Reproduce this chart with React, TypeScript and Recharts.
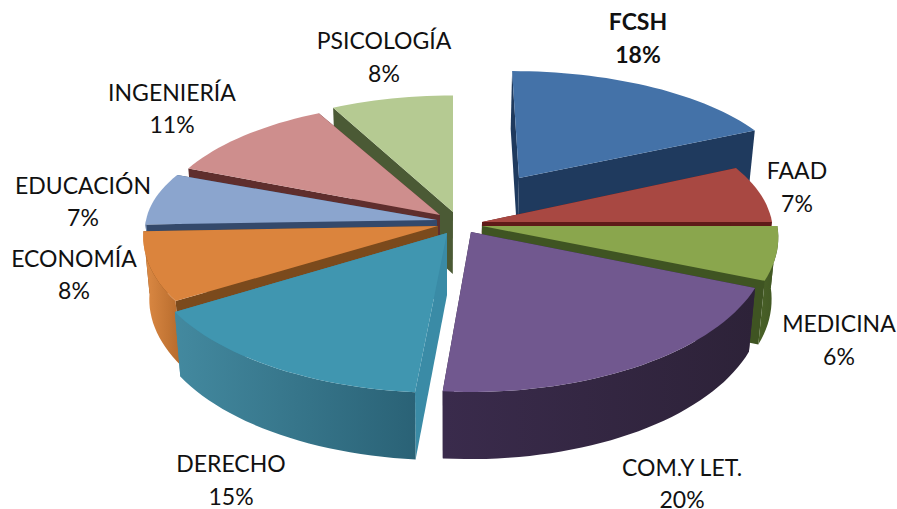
import React from 'react';
import { PieChart, Pie } from 'recharts';

const WIDTH = 897;
const HEIGHT = 509;

// values, labels show them rounded
const names = ['FCSH', 'FAAD', 'MEDICINA', 'COM.Y LET.', 'DERECHO', 'ECONOMÍA', 'EDUCACIÓN', 'INGENIERÍA', 'PSICOLOGÍA'];
const values = [18, 7, 6, 20.4, 15, 8, 7, 11, 7.6];

const data = names.map((name, i) => ({ name, value: values[i] }));

// painter's order, back slices first
const drawOrder = [8, 0, 7, 1, 6, 2, 5, 3, 4];

const topColors = ['#4472A8', '#A84842', '#8AA64D', '#71588F', '#4096B0', '#DB843D', '#8BA5CE', '#CE8E8D', '#B5CA92'];
const cutColors = ['#1F3A5E', '#5F1A18', '#3F5422', '#30243F', '#3A8BA6', '#7B4A1C', '#34496B', '#5F2E2D', '#4B5A35'];
const rimColors = [
  ['#24426A', '#1D3757'],
  ['#7A2725', '#6A201E'],
  ['#4A6228', '#3F5422'],
  ['#3A2B4C', '#2D2238'],
  ['#43899F', '#2A6276'],
  ['#DE8B45', '#B56A2C'],
  ['#6F87AB', '#5F779B'],
  ['#A87472', '#986664'],
  ['#95A878', '#85986A'],
];

// per slice: apex position, horizontal/vertical scale and lean of the exploded piece
const layout = [
  { ax: 519, ay: 178, sx: 0.9, sy: 0.78, lean: 0.065 },
  { ax: 482, ay: 222, sx: 0.957, sy: 0.885, lean: 0 },
  { ax: 482, ay: 226, sx: 0.975, sy: 0.98, lean: 0 },
  { ax: 471, ay: 232, sx: 0.98, sy: 1, lean: 0 },
  { ax: 447, ay: 233, sx: 1, sy: 1, lean: -0.02 },
  { ax: 438, ay: 226, sx: 0.97, sy: 0.95, lean: 0 },
  { ax: 437, ay: 220, sx: 0.96, sy: 0.8, lean: 0 },
  { ax: 440, ay: 215, sx: 0.93, sy: 0.83, lean: 0 },
  { ax: 453, ay: 212, sx: 0.92, sy: 0.85, lean: 0 },
];

// center x and first baseline of each two line label
const labelPos = [
  { x: 638, y: 30 },
  { x: 797, y: 179 },
  { x: 839, y: 332 },
  { x: 682, y: 475.5 },
  { x: 231, y: 472 },
  { x: 74, y: 266.5 },
  { x: 83, y: 193.5 },
  { x: 172, y: 100.5 },
  { x: 384, y: 49 },
];

const RX = 303;
const RY = 147.6;
const PERSP = 0.077;
const DEPTH = 62;
const VANISH_X = 445;

type P = [number, number];

const toPath = (pts: P[]) => 'M' + pts.map((p) => p[0].toFixed(1) + ',' + p[1].toFixed(1)).join('L') + 'Z';

const project = (i: number, theta: number, r: number) => {
  const a = (theta * Math.PI) / 180;
  const u = r * Math.sin(a);
  const v = -r * Math.cos(a);
  const w = 1 - PERSP * v;
  const { ax, ay, sx, sy, lean } = layout[i];
  const dy = (sy * RY * v) / w;
  const top: P = [ax + (sx * RX * u) / w + lean * dy, ay + dy];
  const bottom: P = [VANISH_X + (top[0] - VANISH_X) * 0.98, top[1] + DEPTH / w];
  return { top, bottom };
};

const Slice = ({ i, startAngle, endAngle }: { i: number; startAngle: number; endAngle: number }) => {
  const from = 90 - startAngle;
  const to = 90 - endAngle;
  const steps = Math.max(2, Math.ceil((to - from) / 2));
  const rim = [];
  for (let s = 0; s <= steps; s++) rim.push(project(i, from + ((to - from) * s) / steps, 1));
  const apex = project(i, from, 0);
  const first = rim[0];
  const last = rim[rim.length - 1];
  // outer wall only shows on the front half of the ellipse
  const wallFrom = Math.max(from, 90);
  const wallTo = Math.min(to, 270);
  const wall = [];
  if (wallTo > wallFrom) {
    const n = Math.max(2, Math.ceil((wallTo - wallFrom) / 2));
    for (let s = 0; s <= n; s++) wall.push(project(i, wallFrom + ((wallTo - wallFrom) * s) / n, 1));
  }
  const gradId = 'rim' + i;
  return (
    <g>
      <defs>
        <linearGradient id={gradId} x1="0" y1="0" x2="1" y2="0">
          <stop offset="0%" stopColor={rimColors[i][0]} />
          <stop offset="100%" stopColor={rimColors[i][1]} />
        </linearGradient>
      </defs>
      <path d={toPath([apex.top, last.top, last.bottom, apex.bottom])} fill={cutColors[i]} />
      <path d={toPath([apex.top, first.top, first.bottom, apex.bottom])} fill={cutColors[i]} />
      {wall.length > 0 && (
        <path d={toPath([...wall.map((p) => p.top), ...wall.map((p) => p.bottom).reverse()])} fill={`url(#${gradId})`} />
      )}
      <path d={toPath([apex.top, ...rim.map((p) => p.top)])} fill={topColors[i]} />
    </g>
  );
};

const renderLabel = (props: any) => {
  const i = names.indexOf(props.name);
  const { x, y } = labelPos[i];
  return (
    <text
      key={props.name}
      x={x}
      y={y}
      textAnchor="middle"
      fontFamily="Lato, sans-serif"
      fontSize={23}
      fontWeight={i === 0 ? 700 : 400}
      fill="#111"
    >
      <tspan x={x}>{props.name}</tspan>
      <tspan x={x} dy={32.5}>{Math.round(props.value)}%</tspan>
    </text>
  );
};

const App: React.FC = () => {
  return (
    <div style={{ position: 'absolute', left: 0, top: 0, width: WIDTH, height: HEIGHT, background: '#fff' }}>
      <PieChart width={WIDTH} height={HEIGHT} margin={{ top: 0, right: 0, bottom: 0, left: 0 }}>
        {drawOrder.map((i) => (
          <Pie
            key={names[i]}
            data={data}
            dataKey="value"
            nameKey="name"
            startAngle={90}
            endAngle={-270}
            outerRadius={150}
            stroke="none"
            isAnimationActive={false}
            shape={(props: any) =>
              props.name === names[i] ? <Slice i={i} startAngle={props.startAngle} endAngle={props.endAngle} /> : <g />
            }
          />
        ))}
        <Pie
          data={data}
          dataKey="value"
          nameKey="name"
          startAngle={90}
          endAngle={-270}
          outerRadius={150}
          stroke="none"
          isAnimationActive={false}
          shape={() => <g />}
          label={renderLabel}
          labelLine={false}
        />
      </PieChart>
    </div>
  );
};

export default App;
